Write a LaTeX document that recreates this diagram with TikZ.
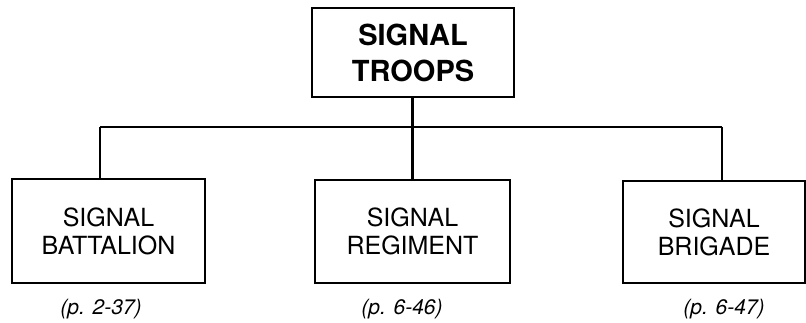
\documentclass[tikz,border=0pt]{standalone}
\usepackage{fontspec}
\setmainfont{TeX Gyre Heros}
\begin{document}
\begin{tikzpicture}[x=1pt,y=1pt,
  box/.style={draw, line width=2.5pt, minimum width=#1, inner sep=0pt, align=center},
  unit/.style={font=\fontsize{25}{28}\selectfont},
  ref/.style={font=\fontsize{21}{24}\selectfont\itshape},
  link/.style={line width=2.5pt}]
\useasboundingbox (0,0) rectangle (806,323);
\node[box=202pt, minimum height=89pt, font=\fontsize{29}{36}\selectfont\bfseries] (top) at (413,270.5) {SIGNAL\\TROOPS};
\node[box=193pt, minimum height=104pt, unit] (left) at (108.5,92) {SIGNAL\\BATTALION};
\node[box=195pt, minimum height=103pt, unit] (mid) at (412.5,91.5) {SIGNAL\\REGIMENT};
\node[box=182pt, minimum height=102pt, unit] (right) at (714,91) {SIGNAL\\BRIGADE};
\node[ref] (lref) at (101,14) {(p. 2-37)};
\node[ref] (mref) at (402,14) {(p. 6-46)};
\node[ref] (rref) at (724,14) {(p. 6-47)};
\coordinate (busL) at (100,196);
\coordinate (busR) at (722,196);
\draw[link] (busL) -- (busR);
\draw[link] (busL) -- (busL |- left.north);
\draw[link] (busR) -- (busR |- right.north);
\draw[link] (top.south -| mid.north) -- (mid.north);
\end{tikzpicture}
\end{document}
